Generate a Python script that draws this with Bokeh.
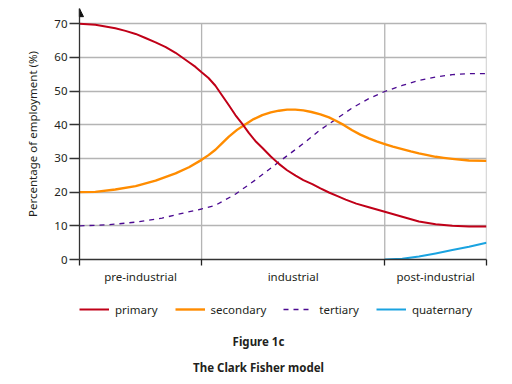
from bokeh.plotting import figure
from bokeh.layouts import column
from bokeh.models import (FixedTicker, Legend, LegendItem, Label, Arrow,
                          NormalHead, Range1d)
from bokeh.embed import file_html
from bokeh.resources import INLINE

# ---- data ----
stages = ["pre-industrial", "industrial", "post-industrial"]
stage_centers = [1.5, 5.25, 8.75]
stage_bounds = [0, 3, 7.5, 10]

primary_x = [0, 0.39, 0.88, 1.13, 1.38, 1.62, 1.87, 2.12, 2.36, 2.69, 2.85, 3.0, 3.17,
             3.34, 3.5, 3.67, 3.83, 4.0, 4.16, 4.32, 4.49, 4.7, 4.9, 5.1, 5.31, 5.5,
             5.72, 5.92, 6.13, 6.34, 6.54, 6.8, 7.11, 7.5, 7.93, 8.34, 8.75, 9.16,
             9.57, 10]
primary_y = [70, 69.7, 68.7, 67.9, 67.0, 65.8, 64.5, 63.1, 61.4, 58.6, 57.2, 55.6, 53.9,
             51.6, 48.8, 45.8, 42.9, 40.3, 37.6, 35.2, 33.2, 30.6, 28.4, 26.5, 24.9, 23.6,
             22.4, 21.1, 19.9, 18.8, 17.8, 16.6, 15.5, 14.2, 12.7, 11.3, 10.5, 10.0,
             9.8, 9.8]

secondary_x = [0, 0.39, 0.88, 1.38, 1.87, 2.36, 2.69, 3.0, 3.17, 3.34, 3.5, 3.67, 3.87,
               4.08, 4.28, 4.49, 4.7, 4.9, 5.1, 5.3, 5.5, 5.7, 5.92, 6.13, 6.3, 6.5,
               6.7, 6.9, 7.11, 7.3, 7.5, 7.7, 7.93, 8.14, 8.34, 8.55, 8.75, 8.95, 9.16,
               9.57, 10]
secondary_y = [20, 20.1, 20.8, 21.8, 23.4, 25.6, 27.4, 29.6, 31.0, 32.6, 34.5, 36.5, 38.5,
               40.2, 41.7, 42.9, 43.7, 44.2, 44.5, 44.5, 44.3, 43.8, 43.1, 42.2, 41.2, 39.9,
               38.4, 37.1, 36.0, 35.1, 34.3, 33.5, 32.8, 32.1, 31.5, 31.0, 30.5, 30.2, 29.9,
               29.4, 29.3]

tertiary_x = [0, 0.71, 1.38, 2.03, 2.52, 3.0, 3.34, 3.83, 4.32, 4.9, 5.31, 5.55,
              5.88, 6.29, 6.70, 7.11, 7.5, 7.93, 8.34, 8.75, 9.16, 9.57, 10]
tertiary_y = [10, 10.3, 11.1, 12.3, 13.7, 15.0, 16.1, 19.4, 23.6, 29.0, 32.7, 34.9,
              38.2, 41.6, 45.0, 47.8, 49.9, 51.7, 53.2, 54.2, 54.9, 55.2, 55.2]

quaternary_x = [7.5, 7.93, 8.34, 8.75, 9.16, 9.57, 10]
quaternary_y = [0, 0.2, 0.9, 1.8, 2.8, 3.8, 5.0]

y_ticks = [0, 10, 20, 30, 40, 50, 60, 70]

series_names = ["primary", "secondary", "tertiary", "quaternary"]
series_colors = ["#c00018", "#ff8c00", "#4b0a91", "#1aa3e0"]
series_widths = [2.0, 2.4, 1.3, 2.0]
series_dash = ["solid", "solid", "5 5", "solid"]

caption_number = "Figure 1c"
caption_title = "The Clark Fisher model"

FONT = "Noto Sans"
TXT = "#231f20"
GRID = "#b4b4b4"
W = 508

# ================= chart =================
p = figure(width=W, height=290, output_backend="svg", toolbar_location=None,
           x_range=Range1d(0, 10), y_range=Range1d(0, 74.55),
           min_border_left=79, min_border_right=22, min_border_top=8,
           min_border_bottom=31)
p.outline_line_color = None

p.xgrid.visible = False
p.ygrid.ticker = FixedTicker(ticks=y_ticks[1:])
p.ygrid.grid_line_color = GRID
p.ygrid.grid_line_width = 1.3
p.segment(x0=stage_bounds[1:], y0=0, x1=stage_bounds[1:], y1=y_ticks[-1],
          line_color=GRID, line_width=1.3)

ya = p.yaxis[0]
ya.ticker = FixedTicker(ticks=y_ticks)
ya.major_tick_out = 10
ya.major_tick_in = 0
ya.minor_tick_line_color = None
ya.major_label_standoff = 2
ya.axis_line_color = "#333333"
ya.axis_line_width = 1.3
ya.major_tick_line_color = "#333333"
ya.major_tick_line_width = 1.3
ya.major_label_text_font = FONT
ya.major_label_text_font_size = "11.5px"
ya.major_label_text_color = TXT
ya.axis_label = "Percentage of employment (%)"
ya.axis_label_text_font = FONT
ya.axis_label_text_font_size = "11.5px"
ya.axis_label_text_font_style = "normal"
ya.axis_label_text_color = TXT
ya.axis_label_standoff = 11

xa = p.xaxis[0]
xa.ticker = FixedTicker(ticks=stage_centers, minor_ticks=stage_bounds)
xa.major_label_overrides = {c: s for c, s in zip(stage_centers, stages)}
xa.major_tick_line_color = None
xa.major_tick_out = 0
xa.major_tick_in = 0
xa.minor_tick_out = 6
xa.minor_tick_in = 0
xa.minor_tick_line_color = "#222222"
xa.minor_tick_line_width = 1.3
xa.axis_line_color = "#333333"
xa.axis_line_width = 1.3
xa.major_label_standoff = 3
xa.major_label_text_font = FONT
xa.major_label_text_font_size = "11.5px"
xa.major_label_text_color = TXT

p.add_layout(Arrow(end=NormalHead(size=8, fill_color="#111111", line_color="#111111"),
                   x_start=0, y_start=72, x_end=0, y_end=74.5,
                   line_color="#333333", line_width=1.3))

xs = [primary_x, secondary_x, tertiary_x, quaternary_x]
ys = [primary_y, secondary_y, tertiary_y, quaternary_y]
for i in [2, 1, 0, 3]:
    p.line(xs[i], ys[i], line_color=series_colors[i], line_width=series_widths[i],
           line_dash=series_dash[i], line_join="round")

# ================= legend + captions =================
# (frame of this panel is aligned with the chart frame by the column layout)
q = figure(width=W, height=86, output_backend="svg", toolbar_location=None,
           x_range=Range1d(79, 486), y_range=Range1d(0, 86),
           x_axis_location=None, y_axis_location=None,
           min_border_left=79, min_border_right=22, min_border_top=0,
           min_border_bottom=0)
q.outline_line_color = None
q.xgrid.visible = False
q.ygrid.visible = False

items = []
for i, name in enumerate(series_names):
    r = q.line(xs[i], ys[i], line_color=series_colors[i], line_width=series_widths[i],
               line_dash=series_dash[i], visible=False)
    items.append(LegendItem(label=name, renderers=[r]))

legend = Legend(items=items, location=(0, 59), orientation="horizontal",
                glyph_width=30, glyph_height=16, label_height=16,
                label_standoff=6, spacing=17, padding=0, margin=0,
                border_line_color=None, background_fill_alpha=0,
                inactive_fill_alpha=0,
                label_text_font=FONT, label_text_font_size="11.5px",
                label_text_color=TXT)
q.add_layout(legend)

q.add_layout(Label(x=258, y=35, text=caption_number, text_align="center",
                   text_baseline="middle", text_font=FONT, text_font_style="bold",
                   text_font_size="11.5px", text_color=TXT))
q.add_layout(Label(x=258, y=9.5, text=caption_title, text_align="center",
                   text_baseline="middle", text_font=FONT, text_font_style="bold",
                   text_font_size="11.5px", text_color=TXT))

layout = column(p, q, spacing=0)
open("out.html", "w").write(file_html(layout, INLINE))
